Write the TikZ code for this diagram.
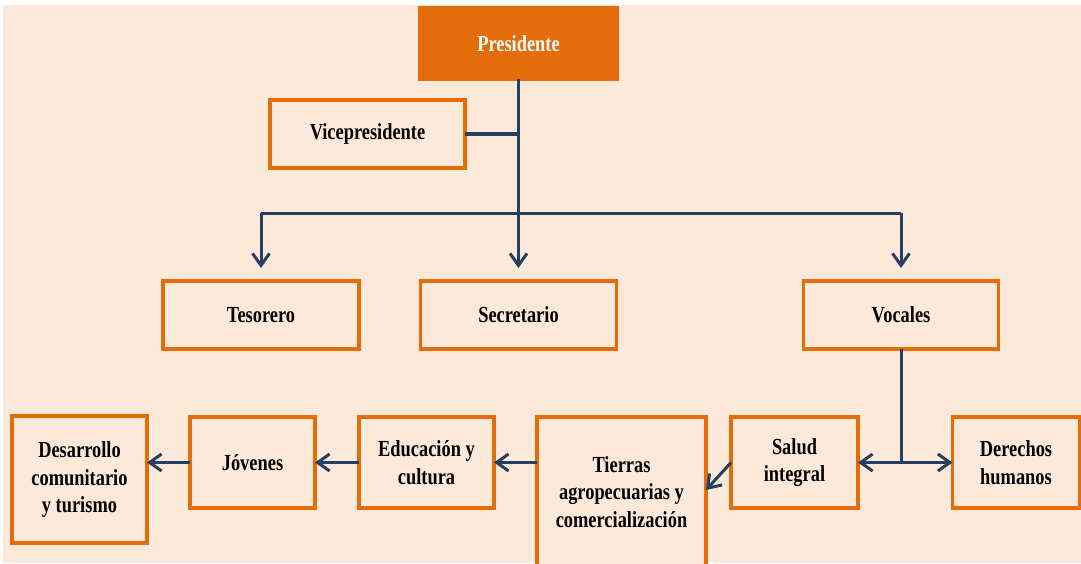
\documentclass[tikz,border=0pt]{standalone}
\usepackage{fontspec}
\setmainfont[FakeStretch=0.8]{Liberation Serif}
\usetikzlibrary{arrows.meta}
\definecolor{bgpeach}{HTML}{FDE9D9}
\definecolor{orgc}{HTML}{E46C0A}
\definecolor{lnc}{HTML}{243F60}
\tikzset{
  orgbox/.style={draw=orgc, line width=3.5pt, fill=bgpeach, rectangle, inner sep=0pt, outer sep=0pt,
    align=center, font=\bfseries\fontsize{23}{27.5}\selectfont, text=black},
  topbox/.style={orgbox, fill=orgc, text=white},
  conn/.style={draw=lnc, line width=3pt},
  arr/.style={conn, -{Straight Barb[length=12pt, width=17pt, line width=3pt]}},
  darr/.style={conn, {Straight Barb[length=12pt, width=17pt, line width=3pt]}-{Straight Barb[length=12pt, width=17pt, line width=3pt]}}
}
\begin{document}
\begin{tikzpicture}[x=1pt, y=-1pt]
\useasboundingbox (0,0) rectangle (1081,563);
\fill[white] (0,0) rectangle (1081,563);
\fill[bgpeach] (3,5) rectangle (1081,563);
\begin{scope}
\clip (3,5) rectangle (1081,563);
% nodes
\node[topbox, minimum width=197pt, minimum height=71pt] (pres) at (518.5,43.5) {Presidente};
\node[orgbox, minimum width=195pt, minimum height=68pt] (vice) at (367.5,134) {Vicepresidente};
\node[orgbox, minimum width=196pt, minimum height=68pt] (teso) at (261,315) {Tesorero};
\node[orgbox, minimum width=196pt, minimum height=68pt] (secr) at (518.5,315) {Secretario};
\node[orgbox, minimum width=195pt, minimum height=68pt] (voca) at (901,315) {Vocales};
\node[orgbox, minimum width=127pt, minimum height=91pt] (salud) at (794.5,462.5) {Salud\\integral};
\node[orgbox, minimum width=127pt, minimum height=91pt] (dere) at (1016,462.5) {Derechos\\humanos};
\node[orgbox, minimum width=169pt, minimum height=150pt] (tier) at (621.5,492) {Tierras\\agropecuarias y\\comercialización};
\node[orgbox, minimum width=135pt, minimum height=91pt] (educ) at (426.5,462.5) {Educación y\\cultura};
\node[orgbox, minimum width=125pt, minimum height=91pt] (jove) at (252.5,462.5) {Jóvenes};
\node[orgbox, minimum width=135pt, minimum height=127pt] (desa) at (79.5,479.5) {Desarrollo\\comunitario\\y turismo};
% junctions
\coordinate (j) at (518.5,213);
% connectors
\draw[conn] (pres.south) -- (j);
\draw[draw=lnc, line width=4.5pt] (vice.east) -- (vice.east -| pres.south);
\draw[conn] (teso.north |- j) -- (voca.north |- j);
\draw[arr] (teso.north |- j) -- ([yshift=13pt]teso.north);
\draw[arr] (j) -- ([yshift=13pt]secr.north);
\draw[arr] (voca.north |- j) -- ([yshift=13pt]voca.north);
\draw[conn] (voca.south) -- (voca.south |- salud.east);
\draw[darr] (salud.east) -- (dere.west);
\draw[arr] (salud.west) -- ([yshift=2pt]tier.east);
\draw[arr] (tier.west |- educ.east) -- (educ.east);
\draw[arr] (educ.west) -- (jove.east);
\draw[arr] (jove.west) -- (jove.west -| desa.east);
\end{scope}
\end{tikzpicture}
\end{document}
